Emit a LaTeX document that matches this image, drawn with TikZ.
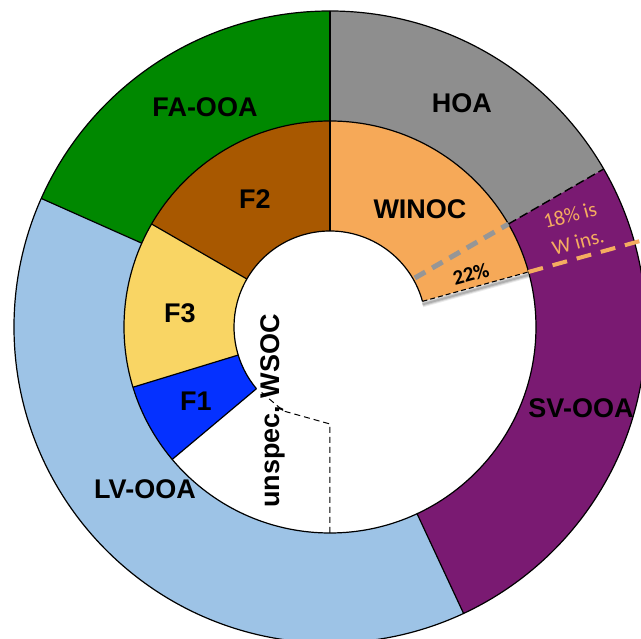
\documentclass[tikz,border=0pt]{standalone}
\usepackage{fontspec}
\setmainfont{Liberation Sans}
\newfontfamily\calfont{Carlito}
\definecolor{hoacol}{RGB}{142,142,142}
\definecolor{facol}{RGB}{0,136,0}
\definecolor{lvcol}{RGB}{157,195,230}
\definecolor{svcol}{RGB}{122,26,114}
\definecolor{winoccol}{RGB}{246,169,88}
\definecolor{ftwocol}{RGB}{168,88,0}
\definecolor{fthreecol}{RGB}{249,213,100}
\definecolor{fonecol}{RGB}{5,49,255}
\definecolor{orgdash}{RGB}{245,172,96}
\definecolor{greydash}{RGB}{150,150,150}
\newcommand\annsec[5]{%
  \fill[#1] (#2:#5) arc[start angle=#2, end angle=#3, radius=#5] -- (#3:#4) arc[start angle=#3, end angle=#2, radius=#4] -- cycle;}
\begin{document}
\begin{tikzpicture}[x=1pt,y=1pt,
  seg/.style={line width=1.2pt, line join=round},
  lbl/.style={font=\fontsize{27}{29}\selectfont\bfseries, inner sep=0pt, text=black},
  pct/.style={font=\calfont\fontsize{21}{23}\selectfont, inner sep=0pt, text=orgdash, rotate=15}]
\useasboundingbox (-330,-312) rectangle (311,327);
\clip (-330,-312) rectangle (311,327);
\def\Ra{316}\def\Rb{206}\def\Rc{96}
% outer ring
\annsec{hoacol}{30}{90}{\Rb}{\Ra}
\annsec{facol}{90}{156}{\Rb}{\Ra}
\annsec{lvcol}{156}{295}{\Rb}{\Ra}
\annsec{svcol}{-65}{30}{\Rb}{\Ra}
% inner ring
\annsec{winoccol}{15.5}{90}{\Rc}{\Rb}
\annsec{ftwocol}{90}{150}{\Rc}{\Rb}
\annsec{fthreecol}{150}{197}{\Rc}{\Rb}
\annsec{fonecol}{197}{220}{\Rc}{\Rb}
% outlines
\draw[seg] (0,0) circle[radius=\Ra];
\draw[seg] (0,0) circle[radius=\Rb];
\draw[seg] (15.5:\Rc) arc[start angle=15.5, end angle=220, radius=\Rc];
\draw[seg] (90:\Rc) -- (90:\Ra);
\draw[seg] (156:\Rb) -- (156:\Ra);
\draw[seg] (-65:\Rb) -- (-65:\Ra);
\draw[seg] (150:\Rc) -- (150:\Rb);
\draw[seg] (197:\Rc) -- (197:\Rb);
\draw[seg] (220:\Rc) -- (220:\Rb);
\draw[line width=1.4pt, dash pattern=on 9pt off 4pt] (30:\Rb) -- (30:\Ra);
% WINOC lower edge with soft shadow
\foreach \o/\w in {0.08/6pt,0.12/4pt,0.15/2pt}
  \draw[black, opacity=\o, line width=\w] ([yshift=-3pt]15.5:\Rc) -- ([yshift=-3pt]15.5:\Rb);
\draw[line width=1.1pt, dash pattern=on 5pt off 3pt] (15.5:\Rc) -- (15.5:\Rb);
% W-ins split lines
\draw[orgdash, line width=4pt, dash pattern=on 15pt off 10pt] (15.5:\Rb) -- (15.5:340);
\draw[greydash, line width=5pt, dash pattern=on 12pt off 8pt] (30:98) -- (30:\Rb);
% unspec boundary
\draw[line width=1pt, dash pattern=on 6pt off 4pt] (270:\Rb) -- (270:97) -- (241:96) -- (222:95);
% labels
\node[lbl] (fa) at (-125,220) {FA-OOA};
\node[lbl] (hoa) at (132,224) {HOA};
\node[lbl] (lv) at (-185,-162) {LV-OOA};
\node[lbl] (sv) at (251,-81) {SV-OOA};
\node[lbl] (f2) at (-75,128) {F2};
\node[lbl] (f3) at (-150,14) {F3};
\node[lbl] (f1) at (-134,-74) {F1};
\node[lbl] (winoc) at (90,118) {WINOC};
\node[lbl, rotate=90] (unspec) at (-57,-84) {unspec, WSOC};
\node[font=\calfont\bfseries\fontsize{21}{23}\selectfont, inner sep=0pt, rotate=15] (p22) at (141,53) {22\%};
\node[pct] (p18a) at (240,112) {18\% is};
\node[pct] (p18b) at (248,85) {W ins.};
\end{tikzpicture}
\end{document}
